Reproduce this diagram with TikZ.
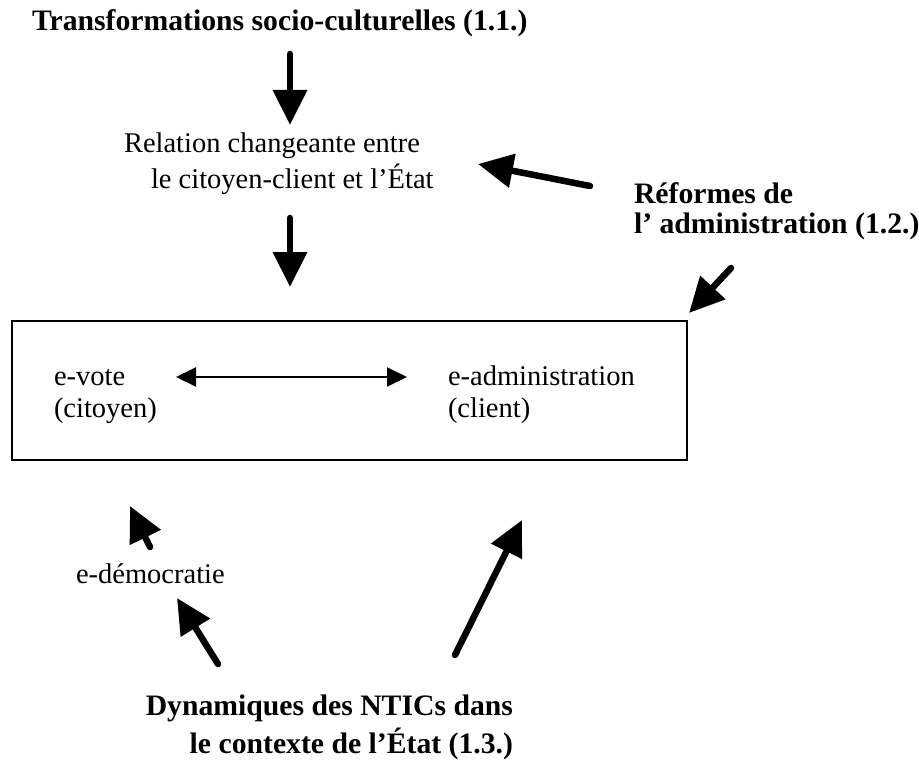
\documentclass[tikz,border=0pt]{standalone}
\usepackage{fontspec}
\setmainfont{Liberation Serif}
\usetikzlibrary{arrows.meta}
\tikzset{
  txt/.style={inner sep=0pt, outer sep=0pt, font=\fontsize{28.5}{34}\selectfont},
  btxt/.style={inner sep=0pt, outer sep=0pt, font=\fontsize{29.7}{34}\selectfont\bfseries},
  bigarrow/.style={line width=6.5pt, line cap=round, -{Triangle[length=35pt,width=33pt]}},
  thinarrow/.style={line width=2pt, {Triangle[length=20pt,width=19pt]}-{Triangle[length=20pt,width=19pt]}},
  framebox/.style={draw, line width=1.5pt, inner sep=0pt, outer sep=0pt, anchor=north west}
}
\begin{document}
\begin{tikzpicture}[x=1pt, y=-1pt]
\useasboundingbox (0,0) rectangle (919,760);
% texts
\node[btxt, anchor=base west] (title) at (32,31) {Transformations socio-culturelles (1.1.)};
\node[txt, anchor=base west] (rel1) at (124,152) {Relation changeante entre};
\node[txt, anchor=base west] (rel2) at (151,188) {le citoyen-client et l’État};
\node[btxt, anchor=base west] (ref1) at (634,203) {Réformes de};
\node[btxt, anchor=base west] (ref2) at (634,233) {l’ administration (1.2.)};
\node[framebox, minimum width=675pt, minimum height=139pt] (box) at (12,321) {};
\node[txt, anchor=base west] (vote1) at (54,385) {e-vote};
\node[txt, anchor=base west] (vote2) at (54,417) {(citoyen)};
\node[txt, anchor=base west] (adm1) at (448,385) {e-administration};
\node[txt, anchor=base west] (adm2) at (448,417) {(client)};
\node[txt, anchor=base west] (demo) at (76,583) {e-démocratie};
\node[btxt, anchor=base east] (dyn1) at (513,715) {Dynamiques des NTICs dans};
\node[btxt, anchor=base east] (dyn2) at (513,753) {le contexte de l’État (1.3.)};
% arrow end points
\coordinate (a1s) at (290,54);
\coordinate (a1e) at (290,125);
\coordinate (a2s) at (590,186);
\coordinate (a2e) at (478,164);
\coordinate (a3s) at (290,218);
\coordinate (a3e) at (290,287);
\coordinate (a4s) at (731,268);
\coordinate (a4e) at (689,313);
\coordinate (a5s) at (150,547);
\coordinate (a5e) at (130,506);
\coordinate (a6s) at (218,664);
\coordinate (a6e) at (177,598);
\coordinate (a7s) at (455,655);
\coordinate (a7e) at (522,520);
\coordinate (dl) at (176,377);
\coordinate (dr) at (407,377);
% arrows
\draw[bigarrow] (a1s) -- (a1e);
\draw[bigarrow] (a2s) -- (a2e);
\draw[bigarrow] (a3s) -- (a3e);
\draw[bigarrow] (a4s) -- (a4e);
\draw[bigarrow] (a5s) -- (a5e);
\draw[bigarrow] (a6s) -- (a6e);
\draw[bigarrow] (a7s) -- (a7e);
\draw[thinarrow] (dl) -- (dr);
\end{tikzpicture}
\end{document}
